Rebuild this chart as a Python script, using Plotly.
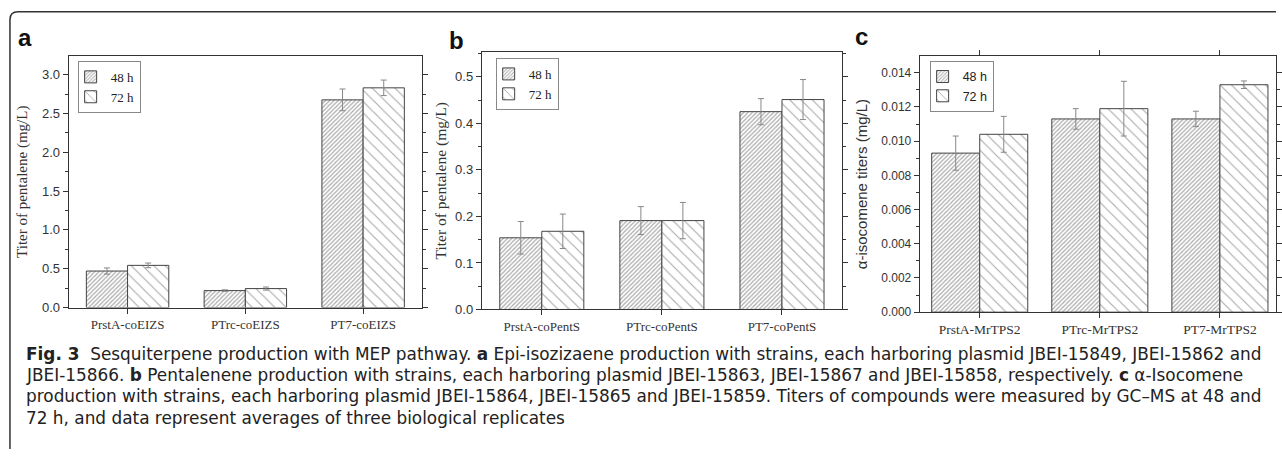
import plotly.graph_objects as go

W, H = 1282, 457

# ---------------- data ----------------
series_names = ["48 h", "72 h"]

cats_a = ["PrstA-coEIZS", "PTrc-coEIZS", "PT7-coEIZS"]
a48 = [0.47, 0.218, 2.675]
a48_err = [0.04, 0.01, 0.14]
a72 = [0.543, 0.244, 2.83]
a72_err = [0.03, 0.02, 0.10]

cats_b = ["PrstA-coPentS", "PTrc-coPentS", "PT7-coPentS"]
b48 = [0.154, 0.191, 0.425]
b48_err = [0.035, 0.030, 0.028]
b72 = [0.168, 0.191, 0.451]
b72_err = [0.037, 0.039, 0.043]

cats_c = ["PrstA-MrTPS2", "PTrc-MrTPS2", "PT7-MrTPS2"]
c48 = [0.0093, 0.0113, 0.0113]
c48_err = [0.0010, 0.0006, 0.00045]
c72 = [0.0104, 0.0119, 0.0133]
c72_err = [0.00105, 0.0016, 0.00022]

caption_lines = [
    "<b>Fig. 3</b>  Sesquiterpene production with MEP pathway. <b>a</b> Epi-isozizaene production with strains, each harboring plasmid JBEI-15849, JBEI-15862 and",
    "JBEI-15866. <b>b</b> Pentalenene production with strains, each harboring plasmid JBEI-15863, JBEI-15867 and JBEI-15858, respectively. <b>c</b> α-Isocomene",
    "production with strains, each harboring plasmid JBEI-15864, JBEI-15865 and JBEI-15859. Titers of compounds were measured by GC–MS at 48 and",
    "72 h, and data represent averages of three biological replicates",
]

# ---------------- helpers ----------------
def px_x(v):
    return v / W

def px_y(v):
    return 1 - v / H

SERIF = "Liberation Serif"
SANS = "Liberation Sans"
AX = "#333333"

patterns = [
    dict(shape="/", size=3, solidity=0.4, fgcolor="#555555", bgcolor="white"),
    dict(shape="\\", size=8, solidity=0.14, fgcolor="#555555", bgcolor="white"),
]

fig = go.Figure()

def add_panel(idx, cats, vals, errs, width, legend_name):
    xa = "x" if idx == 1 else f"x{idx}"
    ya = "y" if idx == 1 else f"y{idx}"
    offsets = [-width, 0]
    for s in range(2):
        fig.add_trace(go.Bar(
            x=cats, y=vals[s], name=series_names[s],
            xaxis=xa, yaxis=ya, width=width, offset=offsets[s],
            marker=dict(color="white", line=dict(color="#444444", width=1),
                        pattern=patterns[s]),
            error_y=dict(type="data", array=errs[s], color="#888888",
                         thickness=1, width=3),
            legend=legend_name,
        ))

add_panel(1, cats_a, [a48, a72], [a48_err, a72_err], 0.35, "legend")
add_panel(2, cats_b, [b48, b72], [b48_err, b72_err], 0.35, "legend2")
add_panel(3, cats_c, [c48, c72], [c48_err, c72_err], 0.40, "legend3")

def xaxis_cfg(dom, anchor, mirror, fsize, rng):
    return dict(domain=dom, anchor=anchor, type="category", range=rng,
                showline=True, linecolor=AX, linewidth=1, mirror=mirror,
                ticks="outside", ticklen=5, tickcolor=AX,
                tickfont=dict(family=SERIF, size=fsize, color="#333333"),
                showgrid=False, zeroline=False, fixedrange=True)

def yaxis_cfg(dom, anchor, rng, dtick, fmt, minor, title, tfont, tsize, standoff, lsize):
    return dict(domain=dom, anchor=anchor, range=rng, dtick=dtick, tick0=0,
                tickformat=fmt, showline=True, linecolor=AX, linewidth=1,
                mirror="ticks", ticks="outside", ticklen=5, tickcolor=AX,
                minor=dict(dtick=minor, ticks="outside", ticklen=3, tickcolor=AX),
                tickfont=dict(family=SANS, size=lsize, color="#333333"),
                showgrid=False, zeroline=False, fixedrange=True,
                title=dict(text=title, font=dict(family=tfont, size=tsize, color="#333333"),
                           standoff=standoff))

fig.update_layout(
    width=W, height=H,
    margin=dict(l=0, r=0, t=0, b=0),
    paper_bgcolor="white", plot_bgcolor="white",
    showlegend=True,
    xaxis=xaxis_cfg([px_x(69), px_x(424)], "y", True, 13, [-0.5, 2.5]),
    yaxis=yaxis_cfg([px_y(313), px_y(57)], "x", [0, 3.24], 0.5, ".1f", 0.25,
                    "Titer of pentalene (mg/L)", SERIF, 15, 10, 13),
    xaxis2=xaxis_cfg([px_x(484), px_x(846)], "y2", True, 13, [-0.5, 2.5]),
    yaxis2=yaxis_cfg([px_y(315), px_y(53)], "x2", [0, 0.553], 0.1, ".1f", 0.05,
                     "Titer of pentalene (mg/L)", SERIF, 15.5, 4, 13),
    xaxis3=xaxis_cfg([px_x(924), 1.0], "y3", "ticks", 13.5, [-0.5, 2.467]),
    yaxis3=yaxis_cfg([px_y(317.7), px_y(57)], "x3", [0, 0.01498], 0.002, ".3f", 0.001,
                     "α-isocomene titers (mg/L)", SANS, 15, 9, 12),
)

def legend_cfg(x, y, family, size):
    return dict(x=px_x(x), y=px_y(y), xanchor="left", yanchor="top",
                bgcolor="white", bordercolor="#888888", borderwidth=1,
                font=dict(family=family, size=size, color="#222222"),
                tracegroupgap=0, itemwidth=30, indentation=-8)

fig.update_layout(
    legend=legend_cfg(78, 62, SERIF, 13),
    legend2=legend_cfg(498, 59, SERIF, 13),
    legend3=legend_cfg(934, 62, SANS, 12.5),
)

# panel letters
for letter, x, y in [("a", 25, 38), ("b", 459, 41), ("c", 866, 37)]:
    fig.add_annotation(text=f"<b>{letter}</b>", x=px_x(x), y=px_y(y),
                       xref="paper", yref="paper", showarrow=False,
                       xanchor="center", yanchor="middle",
                       font=dict(family=SANS, size=24, color="#111111"))

# caption
cap_y = [360, 382, 403, 425]
for line, y in zip(caption_lines, cap_y):
    fig.add_annotation(text=line, x=px_x(24), y=px_y(y), xref="paper", yref="paper",
                       xanchor="left", yanchor="middle", showarrow=False, align="left",
                       font=dict(family="DejaVu Sans", size=16.9, color="#222222"))

# figure frame (top line with rounded corner, left line)
fig.add_shape(type="path", xref="paper", yref="paper",
              path=f"M {px_x(10)},0 L {px_x(10)},{px_y(20)} Q {px_x(10)},{px_y(12)} {px_x(18)},{px_y(12)} L 1,{px_y(12)}",
              line=dict(color="#333333", width=1.5))

fig.write_html("out.html", config={"displayModeBar": False},
               post_script="document.body.style.margin='0';document.body.style.overflow='hidden';")
